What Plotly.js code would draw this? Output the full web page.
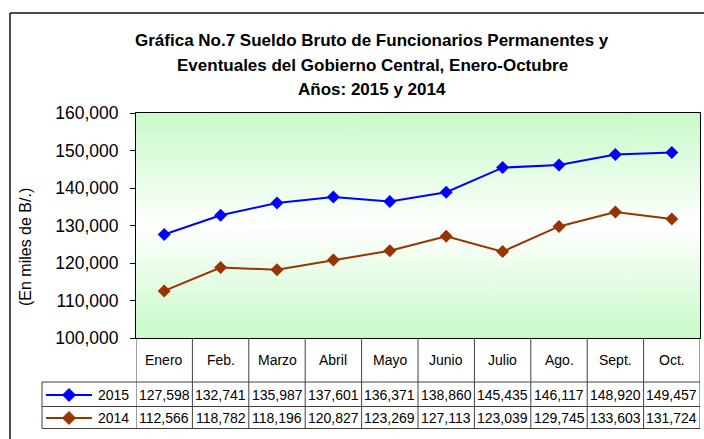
<!DOCTYPE html>
<html>
<head>
<meta charset="utf-8">
<script src="https://cdn.plot.ly/plotly-3.0.1.min.js"></script>
<style>html,body{margin:0;padding:0;background:#fff;}#chart{width:704px;height:439px;}</style>
</head>
<body>
<div id="chart"></div>
<script>
// ---- data ----
var categories = ["Enero","Feb.","Marzo","Abril","Mayo","Junio","Julio","Ago.","Sept.","Oct."];
var values2015 = [127598,132741,135987,137601,136371,138860,145435,146117,148920,149457];
var values2014 = [112566,118782,118196,120827,123269,127113,123039,129745,133603,131724];
var seriesNames = ["2015","2014"];
var yTickVals = [100000,110000,120000,130000,140000,150000,160000];
var titleLines = ["Gráfica No.7 Sueldo Bruto de Funcionarios Permanentes y",
                  "Eventuales del Gobierno Central, Enero-Octubre",
                  "Años: 2015 y 2014"];
var yTitle = "(En miles de B/.)";

// ---- geometry helpers (pixel -> paper) ----
var W = 704, H = 439;
var L = 136, R = 700, T = 113, B = 338;
function px(x){ return (x - L) / (R - L); }
function py(y){ return (B - y) / (B - T); }

var FONT = "Liberation Sans, Arial, sans-serif";
var blue = "#0000FF", brown = "#993300";

// gradient background image
var cv = document.createElement("canvas");
cv.width = 4; cv.height = 300;
var ctx = cv.getContext("2d");
var g = ctx.createLinearGradient(0,0,0,300);
g.addColorStop(0, "#c8fac8");
g.addColorStop(0.5, "#ffffff");
g.addColorStop(1, "#c8fac8");
ctx.fillStyle = g; ctx.fillRect(0,0,4,300);
var bgURL = cv.toDataURL();

var traces = [
  {x: categories, y: values2015, name: seriesNames[0], type: "scatter", mode: "lines+markers",
   line: {color: blue, width: 2}, marker: {symbol: "diamond", size: 10, color: blue}, cliponaxis: false},
  {x: categories, y: values2014, name: seriesNames[1], type: "scatter", mode: "lines+markers",
   line: {color: brown, width: 2}, marker: {symbol: "diamond", size: 10, color: brown}, cliponaxis: false}
];

var lineCol = "#404040";
var shapes = [];
// outer frame
shapes.push({type:"line", xref:"paper", yref:"paper", x0:px(10), x1:px(710), y0:py(13), y1:py(13), line:{color:"#111", width:1.5}});
shapes.push({type:"line", xref:"paper", yref:"paper", x0:px(10), x1:px(10), y0:py(13), y1:py(445), line:{color:"#111", width:1.5}});
// table vertical lines at category boundaries
for (var i = 0; i <= categories.length; i++) {
  shapes.push({type:"line", xref:"x", yref:"paper", x0:i-0.5, x1:i-0.5, y0:0, y1:py(428.5), line:{color:lineCol, width:1}});
}
// table horizontal lines
[382, 406.5, 428.5].forEach(function(yy){
  shapes.push({type:"line", xref:"paper", yref:"paper", x0:px(42), x1:1, y0:py(yy), y1:py(yy), line:{color:lineCol, width:1}});
});
// legend column left border
shapes.push({type:"line", xref:"paper", yref:"paper", x0:px(42), x1:px(42), y0:py(382), y1:py(428.5), line:{color:lineCol, width:1}});
// legend symbols
var legendRows = [{y:395, c:blue}, {y:418, c:brown}];
legendRows.forEach(function(r){
  shapes.push({type:"line", xref:"paper", yref:"paper", x0:px(46), x1:px(92), y0:py(r.y), y1:py(r.y), line:{color:r.c, width:2}});
  var cx = 69, cy = r.y, d = 6.5;
  var path = "M" + px(cx-d) + "," + py(cy) + " L" + px(cx) + "," + py(cy-d) + " L" + px(cx+d) + "," + py(cy) + " L" + px(cx) + "," + py(cy+d) + " Z";
  shapes.push({type:"path", xref:"paper", yref:"paper", path: path, fillcolor:r.c, line:{color:r.c, width:1}});
});

var annotations = [];
// title lines
var titleY = [41, 65, 89];
titleLines.forEach(function(t, k){
  annotations.push({text:"<b>"+t+"</b>", xref:"paper", yref:"paper", x:px(372), y:py(titleY[k]),
    xanchor:"center", yanchor:"middle", showarrow:false, font:{family:FONT, size:17, color:"#000"}});
});
// y title
annotations.push({text:yTitle, xref:"paper", yref:"paper", x:px(25), y:py(247), textangle:-90,
  xanchor:"center", yanchor:"middle", showarrow:false, font:{family:FONT, size:16, color:"#000"}});
// category header row + value rows
function fmt(v){ return v.toLocaleString("en-US"); }
categories.forEach(function(c, i){
  annotations.push({text:c, xref:"x", yref:"paper", x:c, y:py(360), xanchor:"center", yanchor:"middle",
    showarrow:false, font:{family:FONT, size:14, color:"#000"}});
  annotations.push({text:fmt(values2015[i]), xref:"x", yref:"paper", x:c, y:py(395), xanchor:"center", yanchor:"middle",
    showarrow:false, font:{family:FONT, size:14, color:"#000"}});
  annotations.push({text:fmt(values2014[i]), xref:"x", yref:"paper", x:c, y:py(418), xanchor:"center", yanchor:"middle",
    showarrow:false, font:{family:FONT, size:14, color:"#000"}});
});
// legend labels
annotations.push({text:seriesNames[0], xref:"paper", yref:"paper", x:px(96), y:py(395), xanchor:"left", yanchor:"middle",
  showarrow:false, font:{family:FONT, size:14, color:"#000"}});
annotations.push({text:seriesNames[1], xref:"paper", yref:"paper", x:px(96), y:py(418), xanchor:"left", yanchor:"middle",
  showarrow:false, font:{family:FONT, size:14, color:"#000"}});

var layout = {
  width: W, height: H,
  margin: {l: L, r: W - R, t: T, b: H - B, pad: 0},
  paper_bgcolor: "#ffffff",
  plot_bgcolor: "rgba(0,0,0,0)",
  showlegend: false,
  font: {family: FONT, color: "#000"},
  xaxis: {type:"category", range:[-0.5, categories.length - 0.5], showticklabels:false, ticks:"",
    showgrid:false, zeroline:false, showline:true, mirror:true, linecolor:"#000", linewidth:1, fixedrange:true},
  yaxis: {range:[100000,160000], tickvals: yTickVals, tickformat:",d", ticks:"outside", ticklen:5, tickcolor:"#000",
    ticklabelstandoff: 8,
    tickfont:{family:FONT, size:17.5, color:"#000"}, showgrid:false, zeroline:false, showline:true, mirror:true,
    linecolor:"#000", linewidth:1, fixedrange:true},
  images: [{source: bgURL, xref:"paper", yref:"paper", x:0, y:1, sizex:1, sizey:1, sizing:"stretch",
    xanchor:"left", yanchor:"top", layer:"below"}],
  shapes: shapes,
  annotations: annotations
};

Plotly.newPlot("chart", traces, layout, {displayModeBar:false, staticPlot:true});
</script>
</body>
</html>
